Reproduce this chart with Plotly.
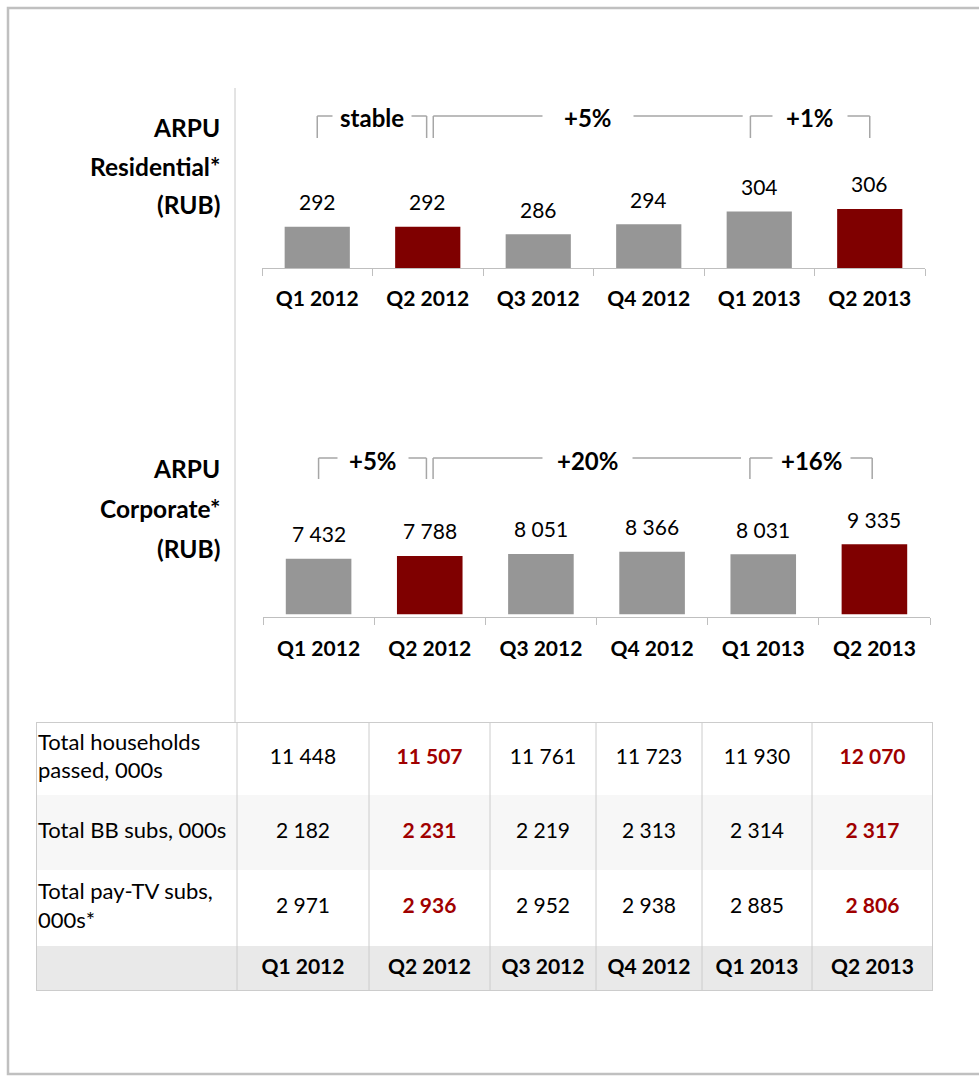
import plotly.graph_objects as go

# ---------------- data ----------------
QUARTERS = ["Q1 2012", "Q2 2012", "Q3 2012", "Q4 2012", "Q1 2013", "Q2 2013"]
HIGHLIGHT = ["Q2 2012", "Q2 2013"]

ARPU_RESIDENTIAL = [292, 292, 286, 294, 304, 306]
ARPU_CORPORATE = [7432, 7788, 8051, 8366, 8031, 9335]

RES_CHANGES = ["stable", "+5%", "+1%"]
CORP_CHANGES = ["+5%", "+20%", "+16%"]

RES_TITLE = ["ARPU", "Residential*", "(RUB)"]
CORP_TITLE = ["ARPU", "Corporate*", "(RUB)"]

ROW_LABELS = ["Total households<br>passed, 000s", "Total BB subs, 000s", "Total pay-TV subs,<br>000s*"]
HOUSEHOLDS = [11448, 11507, 11761, 11723, 11930, 12070]
BB_SUBS = [2182, 2231, 2219, 2313, 2314, 2317]
PAYTV_SUBS = [2971, 2936, 2952, 2938, 2885, 2806]
TABLE_VALUES = [HOUSEHOLDS, BB_SUBS, PAYTV_SUBS]

# ---------------- style ----------------
W, H = 979, 1077
FONT = "Lato, 'Open Sans', sans-serif"
GRAY = "#969696"
RED = "#7f0000"
TXT_RED = "#a00000"
AXIS = "#bfbfbf"
BRACKET = "#a6a6a6"


def px(x):
    return x / W


def py(y):
    return 1 - y / H


def fmt(v):
    return f"{v:,}".replace(",", " ")


fig = go.Figure()
shapes = []
annotations = []


def bar_chart(values, changes, title, n, x_px, y_px, base, scale, spans, pads, br_px, title_px, standoff):
    xa, ya = f"x{n}" if n > 1 else "x", f"y{n}" if n > 1 else "y"
    colors = [RED if q in HIGHLIGHT else GRAY for q in QUARTERS]
    fig.add_trace(go.Bar(x=QUARTERS, y=values, marker=dict(color=colors, line=dict(width=0)),
                         width=0.59, xaxis=xa, yaxis=ya, hoverinfo="skip"))
    top = base + (y_px[1] - y_px[0]) / scale
    key = "" if n == 1 else str(n)
    fig.layout["xaxis" + key] = dict(
        domain=[px(x_px[0]), px(x_px[1])], anchor=ya, type="category",
        categoryorder="array", categoryarray=QUARTERS,
        showline=True, linecolor=AXIS, linewidth=1, ticks="outside", tickson="boundaries",
        ticklen=7, tickcolor=AXIS, tickwidth=1, showgrid=False, zeroline=False,
        tickfont=dict(family=FONT, size=21, color="black", weight="bold"),
        ticklabelstandoff=standoff, fixedrange=True)
    fig.layout["yaxis" + key] = dict(domain=[py(y_px[1]), py(y_px[0])], anchor=xa,
                                     range=[base, top], visible=False, fixedrange=True)
    # value labels
    for q, v in zip(QUARTERS, values):
        annotations.append(dict(x=q, y=v, xref=xa, yref=ya, text=fmt(v), showarrow=False,
                                yshift=25, yanchor="middle",
                                font=dict(family=FONT, size=21, color="black")))
    # brackets
    y_top = base + (y_px[1] - br_px[0]) / scale
    y_bot = base + (y_px[1] - br_px[1]) / scale
    ln = dict(color=BRACKET, width=1.5)
    for (x0, x1, right), label, pad in zip(spans, changes, pads):
        shapes.append(dict(type="line", xref=xa, yref=ya, x0=x0, x1=x1, y0=y_top, y1=y_top, line=ln))
        shapes.append(dict(type="line", xref=xa, yref=ya, x0=x0, x1=x0, y0=y_top, y1=y_bot, line=ln))
        if right:
            shapes.append(dict(type="line", xref=xa, yref=ya, x0=x1, x1=x1, y0=y_top, y1=y_bot, line=ln))
        annotations.append(dict(x=(x0 + x1) / 2, y=y_top, xref=xa, yref=ya, text=label,
                                showarrow=False, yshift=-2, bgcolor="white", borderpad=pad,
                                font=dict(family=FONT, size=24, color="black", weight="bold")))
    # title
    for line, ty in zip(title, title_px):
        annotations.append(dict(x=px(222), y=py(ty), xref="paper", yref="paper", text=line,
                                showarrow=False, xanchor="right", yanchor="middle",
                                font=dict(family=FONT, size=24.5, color="black", weight="bold")))


bar_chart(ARPU_RESIDENTIAL, RES_CHANGES, RES_TITLE, 1, (262, 925), (100, 268), 259.3, 1.264,
          [(0, 0.99, True), (1.05, 3.85, False), (3.92, 5.0, True)], [7, 21, 13], (116, 138),
          (127, 166, 205), 12)
bar_chart(ARPU_CORPORATE, CORP_CHANGES, CORP_TITLE, 2, (263, 930), (445, 617), -350, 0.0075,
          [(0, 0.97, True), (1.03, 3.80, False), (3.88, 4.98, True)], [11, 14, 8], (458, 479),
          (468, 508, 548), 13)

# ---------------- table ----------------
COL_W = [201, 132, 121, 106, 106, 110, 121]
ROW_H = [73, 75, 76, 45]
edges = [0]
for w in COL_W:
    edges.append(edges[-1] + w)
redges = [0]
for h in ROW_H:
    redges.append(redges[-1] + h)
cx = [(edges[i] + edges[i + 1]) / 2 for i in range(len(COL_W))]
cy = [(redges[i] + redges[i + 1]) / 2 for i in range(len(ROW_H))]

fig.layout["xaxis3"] = dict(domain=[px(36), px(933)], anchor="y3", range=[0, edges[-1]],
                            visible=False, fixedrange=True)
fig.layout["yaxis3"] = dict(domain=[py(991), py(722)], anchor="x3", range=[redges[-1], 0],
                            visible=False, fixedrange=True)

row_fills = ["white", "#f7f7f7", "white", "#e9e9e9"]
for i, f in enumerate(row_fills):
    shapes.append(dict(type="rect", xref="x3", yref="y3", x0=0, x1=edges[-1], y0=redges[i],
                       y1=redges[i + 1], fillcolor=f, line=dict(width=0), layer="below"))
for e in edges[1:-1]:
    shapes.append(dict(type="line", xref="x3", yref="y3", x0=e, x1=e, y0=0, y1=redges[-1],
                       line=dict(color="#cccccc", width=1)))
shapes.append(dict(type="rect", xref="x3", yref="y3", x0=0, x1=edges[-1], y0=0, y1=redges[-1],
                   line=dict(color="#cccccc", width=2)))

fig.add_trace(go.Scatter(x=[2] * len(ROW_LABELS), y=cy[:3], text=ROW_LABELS, mode="text",
                         textposition="middle right", xaxis="x3", yaxis="y3", cliponaxis=False,
                         textfont=dict(family=FONT, size=22, color="black"), hoverinfo="skip"))
for j, q in enumerate(QUARTERS):
    hl = q in HIGHLIGHT
    col_vals = [vals[j] for vals in TABLE_VALUES]
    txt = [f"<b>{fmt(v)}</b>" if hl else fmt(v) for v in col_vals]
    fig.add_trace(go.Scatter(x=[cx[j + 1]] * 3, y=cy[:3], text=txt, mode="text",
                             textposition="middle center", xaxis="x3", yaxis="y3", cliponaxis=False,
                             textfont=dict(family=FONT, size=21, color=TXT_RED if hl else "black"),
                             hoverinfo="skip"))
fig.add_trace(go.Scatter(x=cx[1:], y=[cy[3]] * len(QUARTERS), text=[f"<b>{q}</b>" for q in QUARTERS],
                         mode="text", textposition="middle center", xaxis="x3", yaxis="y3",
                         cliponaxis=False, textfont=dict(family=FONT, size=21, color="black"),
                         hoverinfo="skip"))

# ---------------- frame ----------------
shapes.append(dict(type="line", xref="paper", yref="paper", x0=px(235), x1=px(235), y0=py(88),
                   y1=py(722), line=dict(color="#c8c8c8", width=1)))
shapes.append(dict(type="rect", xref="paper", yref="paper", x0=px(8), x1=px(1000), y0=py(1074),
                   y1=py(8), line=dict(color="#c0c0c0", width=2.5)))

fig.update_layout(width=W, height=H, margin=dict(l=0, r=0, t=0, b=0), showlegend=False,
                  paper_bgcolor="white", plot_bgcolor="white", font=dict(family=FONT),
                  shapes=shapes, annotations=annotations)
fig.write_html("out.html", config={"displayModeBar": False},
               post_script="document.body.style.margin='0';document.body.style.overflow='hidden';")
